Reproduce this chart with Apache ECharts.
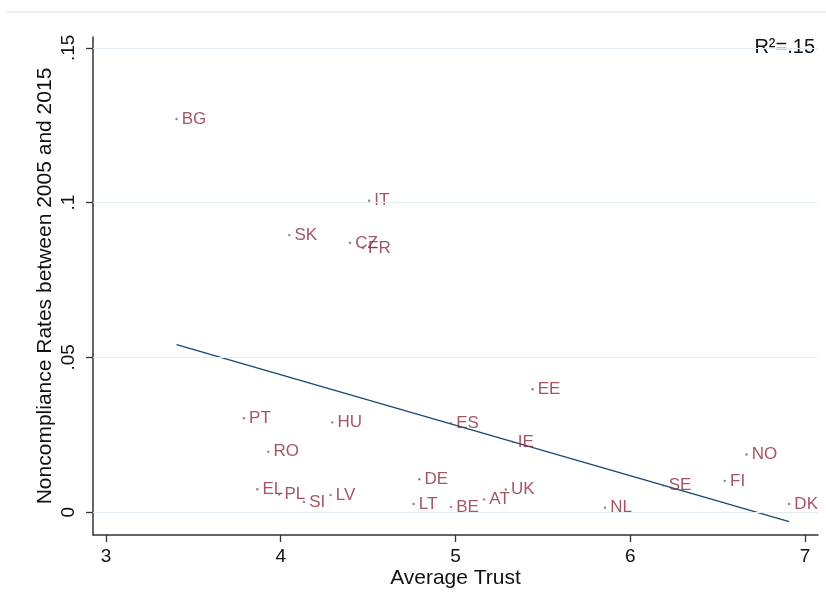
<!DOCTYPE html>
<html>
<head>
<meta charset="utf-8">
<script src="https://cdn.jsdelivr.net/npm/echarts@6/dist/echarts.min.js"></script>
<style>
  html, body { margin: 0; padding: 0; background: #fff; }
  #chart { width: 826px; height: 604px; }
</style>
</head>
<body>
<div id="chart"></div>
<script>
// Country codes with average trust (x) and noncompliance rate (y)
const countries = ['BG','IT','SK','CZ','FR','EE','PT','HU','ES','IE','RO','NO','DE','FI','SE','EL','UK','LV','PL','AT','SI','LT','DK','BE','NL'];
const trust     = [3.404, 4.506, 4.049, 4.396, 4.470, 5.441, 3.789, 4.295, 4.974, 5.327, 3.929, 6.665, 4.793, 6.541, 6.190, 3.866, 5.288, 4.285, 3.992, 5.164, 4.133, 4.760, 6.909, 4.974, 5.855];
const noncomp   = [0.127, 0.1006, 0.0895, 0.0870, 0.0853, 0.0397, 0.0303, 0.0290, 0.0287, 0.0227, 0.0195, 0.0186, 0.0106, 0.0101, 0.0086, 0.0074, 0.0073, 0.0055, 0.0057, 0.0041, 0.0033, 0.0026, 0.0026, 0.0017, 0.0014];

// Fitted line endpoints
const fitX = [3.404, 6.909];
const fitY = [0.0541, -0.0031];

// Axis ticks
const xTicks = [3, 4, 5, 6, 7];
const yTicks = [0, 0.05, 0.1, 0.15];
const yTickText = ['0', '.05', '.1', '.15'];
const rSquaredText = 'R\u00b2=.15';

const labelColor = '#8c2a3c';
const inkColor = '#111';
const fontStack = 'Arial, "Liberation Sans", sans-serif';

const points = countries.map((c, i) => ({ name: c, value: [trust[i], noncomp[i]] }));
const fitLine = fitX.map((x, i) => [x, fitY[i]]);

const chart = echarts.init(document.getElementById('chart'), null, { renderer: 'canvas' });
chart.setOption({
  animation: false,
  backgroundColor: '#fff',
  textStyle: { fontFamily: fontStack },
  grid: { left: 93, right: 8, top: 37, bottom: 69, containLabel: false },
  graphic: [
    { type: 'line', shape: { x1: 7, y1: 12, x2: 826, y2: 12 }, style: { stroke: '#e6eef2', lineWidth: 1.5 }, silent: true },
    { type: 'text', right: 11, top: 37, style: { text: rSquaredText, fill: inkColor, font: '20px ' + fontStack } }
  ],
  xAxis: {
    type: 'value',
    min: 2.926, max: 7.074,
    name: 'Average Trust', nameLocation: 'middle', nameGap: 33, nameMoveOverlap: false,
    nameTextStyle: { fontSize: 21, color: inkColor },
    axisLine: { show: true, onZero: false, lineStyle: { color: '#333', width: 1.5 } },
    axisTick: { show: true, length: 7, customValues: xTicks, lineStyle: { color: '#333', width: 1.3 } },
    axisLabel: { customValues: xTicks, fontSize: 19, color: inkColor, margin: 12, formatter: v => String(v) },
    splitLine: { show: false }
  },
  yAxis: {
    type: 'value',
    min: -0.0074, max: 0.1535,
    name: 'Noncompliance Rates between 2005 and 2015', nameLocation: 'middle', nameGap: 37, nameRotate: 90, nameMoveOverlap: false,
    nameTextStyle: { fontSize: 21, color: inkColor },
    axisLine: { show: true, onZero: false, lineStyle: { color: '#333', width: 1.5 } },
    axisTick: { show: true, length: 7, customValues: yTicks, lineStyle: { color: '#333', width: 1.3 } },
    axisLabel: {
      customValues: yTicks, rotate: 90, fontSize: 19, color: inkColor, margin: 15,
      formatter: v => { const k = yTicks.findIndex(t => Math.abs(t - v) < 1e-9); return k >= 0 ? yTickText[k] : ''; }
    },
    splitLine: { show: false }
  },
  series: [
    {
      // horizontal grid lines at the y ticks
      type: 'line', data: [], silent: true,
      markLine: {
        silent: true, symbol: 'none', label: { show: false },
        lineStyle: { color: '#e4eef2', width: 1.2, type: 'solid' },
        data: yTicks.map(t => ({ yAxis: t }))
      }
    },
    {
      type: 'scatter',
      data: points,
      symbol: 'circle', symbolSize: 2.4,
      itemStyle: { color: '#8a5a66' },
      label: {
        show: true, position: 'right', distance: 4,
        formatter: p => p.name,
        color: labelColor, fontSize: 17,
        fontFamily: fontStack
      },
      labelLayout: { hideOverlap: false },
      z: 3
    },
    {
      type: 'line',
      data: fitLine,
      symbol: 'none',
      lineStyle: { color: '#1a476f', width: 1.3 },
      z: 2
    }
  ]
});
</script>
</body>
</html>
